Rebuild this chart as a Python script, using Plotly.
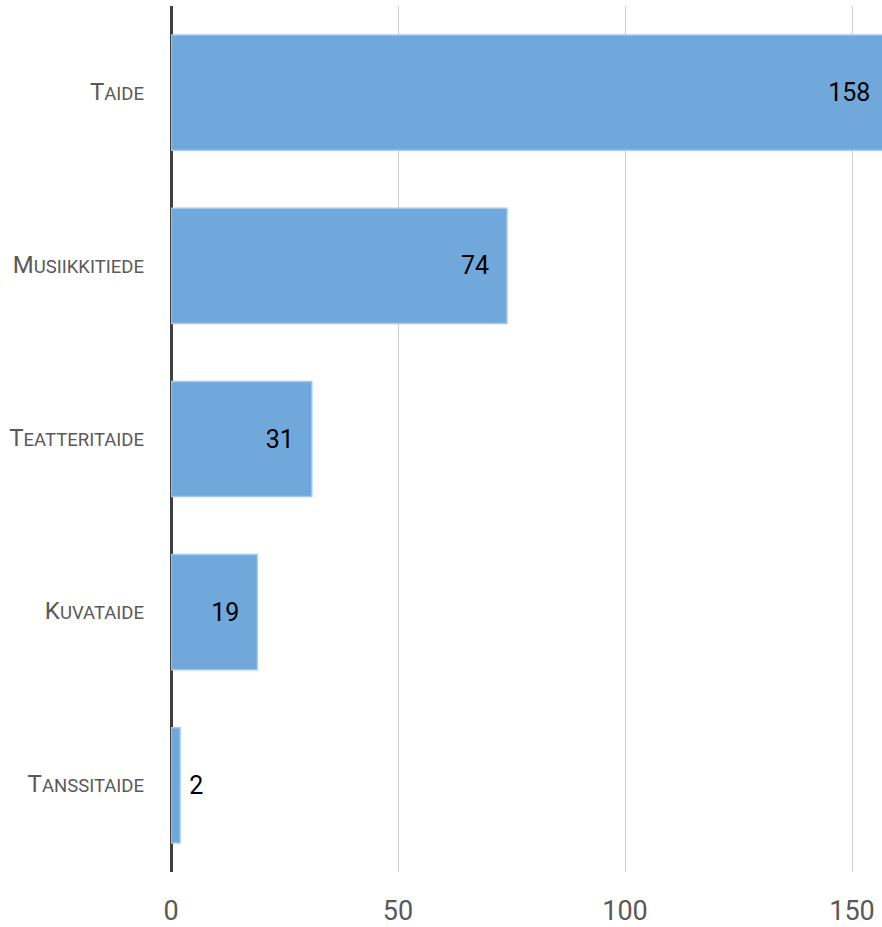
import plotly.graph_objects as go

categories = ["Taide", "Musiikkitiede", "Teatteritaide", "Kuvataide", "Tanssitaide"]
values = [158, 74, 31, 19, 2]
x_ticks = [0, 50, 100, 150]


def small_caps(word, big=24, small=18.5):
    return f"<span style='font-size:{big}px'>{word[0].upper()}</span><span style='font-size:{small}px'>{word[1:].upper()}</span>"


tick_text = [small_caps(c) for c in categories]
NB = "\u00a0"
text_pos = ["inside" if v > 5 else "outside" for v in values]
texts = [f"{v}{NB*2}\u200a" if p == "inside" else f"{NB}{v}" for v, p in zip(values, text_pos)]

fig = go.Figure()
fig.add_trace(go.Bar(
    x=values, y=categories, orientation="h",
    marker=dict(color="#70a8db", line=dict(color="#a4c8ea", width=1.5)),
    width=0.665,
    text=texts, textposition=text_pos, insidetextanchor="end",
    textfont=dict(family="Roboto", size=25, color="#000000"),
    constraintext="none", cliponaxis=True,
))

fig.update_layout(
    width=882, height=927,
    margin=dict(l=171, r=0, t=6, b=55),
    plot_bgcolor="white", paper_bgcolor="white",
    showlegend=False,
    xaxis=dict(range=[0, 156.6], tickvals=x_ticks, ticktext=[str(t) for t in x_ticks],
               showgrid=True, gridcolor="#cfcfcf", gridwidth=1,
               zeroline=True, zerolinecolor="#3f3f3f", zerolinewidth=3,
               tickfont=dict(family="Roboto", size=27, color="#595959"),
               ticks="", ticklabelstandoff=20, automargin=False),
    yaxis=dict(type="category", categoryorder="array", categoryarray=categories,
               autorange="reversed", tickvals=categories, ticktext=tick_text,
               tickfont=dict(family="Roboto", size=20, color="#595959"),
               showgrid=False, ticks="", ticklabelstandoff=26, automargin=False),
)

fig.write_html("out.html", config={"displayModeBar": False},
               post_script="document.body.style.margin='0';")
